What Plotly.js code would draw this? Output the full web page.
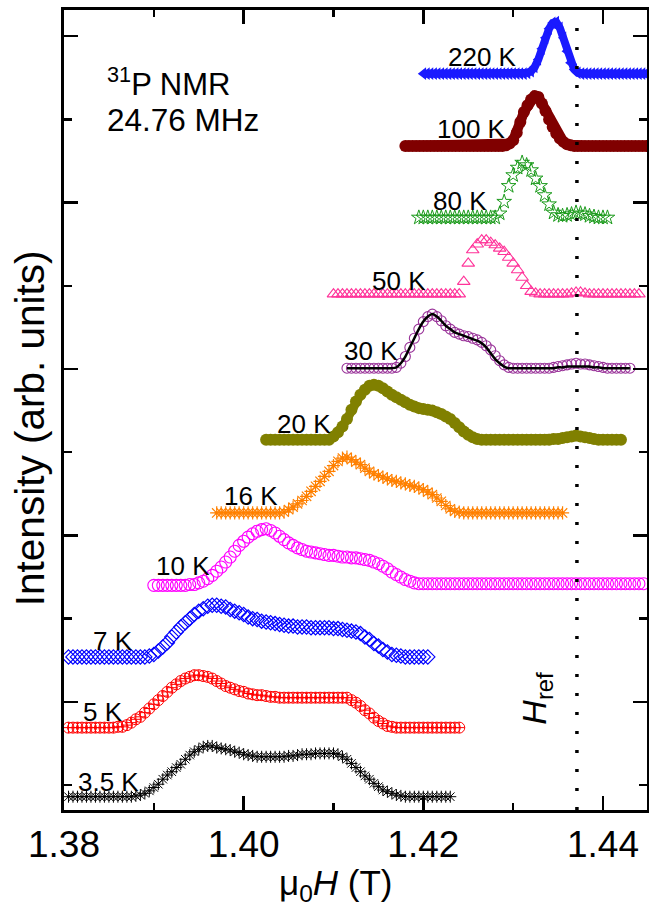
<!DOCTYPE html>
<html>
<head>
<meta charset="utf-8">
<script src="https://cdn.plot.ly/plotly-3.0.1.min.js"></script>
<style>
html,body{margin:0;padding:0;background:#fff;}
#chart{width:649px;height:907px;}
</style>
</head>
<body>
<div id="chart"></div>
<script>
// ---------- data (field in tesla, intensity in arb. units incl. vertical offset) ----------
const hRef = 1.4371;
const tempLabels = ["3.5 K","5 K","7 K","10 K","16 K","20 K","30 K","50 K","80 K","100 K","220 K"];

const x35 = [1.3805,1.3810,1.3815,1.3820,1.3825,1.3830,1.3835,1.3840,1.3845,1.3850,1.3855,1.3860,1.3865,1.3870,1.3875,1.3880,1.3885,1.3890,1.3895,1.3900,1.3905,1.3910,1.3915,1.3920,1.3925,1.3930,1.3935,1.3940,1.3945,1.3950,1.3955,1.3960,1.3965,1.3970,1.3975,1.3980,1.3985,1.3990,1.3995,1.4000,1.4005,1.4010,1.4015,1.4020,1.4025,1.4030,1.4035,1.4040,1.4045,1.4050,1.4055,1.4060,1.4065,1.4070,1.4075,1.4080,1.4085,1.4090,1.4095,1.4100,1.4105,1.4110,1.4115,1.4120,1.4125,1.4130,1.4135,1.4140,1.4145,1.4150,1.4155,1.4160,1.4165,1.4170,1.4175,1.4180,1.4185,1.4190,1.4195,1.4200,1.4205,1.4210,1.4215,1.4220,1.4225,1.4230];
const y35 = [-0.14,-0.14,-0.14,-0.14,-0.14,-0.14,-0.14,-0.14,-0.14,-0.14,-0.14,-0.14,-0.14,-0.14,-0.14,-0.13,-0.12,-0.10,-0.07,-0.03,0.01,0.07,0.12,0.16,0.21,0.25,0.31,0.36,0.40,0.43,0.46,0.47,0.47,0.45,0.44,0.43,0.42,0.40,0.39,0.37,0.36,0.35,0.34,0.34,0.34,0.34,0.34,0.34,0.34,0.35,0.35,0.36,0.37,0.37,0.37,0.38,0.38,0.38,0.38,0.38,0.37,0.34,0.31,0.26,0.21,0.16,0.11,0.07,0.02,-0.02,-0.06,-0.08,-0.10,-0.12,-0.13,-0.14,-0.14,-0.14,-0.14,-0.14,-0.14,-0.14,-0.14,-0.14,-0.14,-0.14];

const x5 = [1.3805,1.3810,1.3815,1.3820,1.3825,1.3830,1.3835,1.3840,1.3845,1.3850,1.3855,1.3860,1.3865,1.3870,1.3875,1.3880,1.3885,1.3890,1.3895,1.3900,1.3905,1.3910,1.3915,1.3920,1.3925,1.3930,1.3935,1.3940,1.3945,1.3950,1.3955,1.3960,1.3965,1.3970,1.3975,1.3980,1.3985,1.3990,1.3995,1.4000,1.4005,1.4010,1.4015,1.4020,1.4025,1.4030,1.4035,1.4040,1.4045,1.4050,1.4055,1.4060,1.4065,1.4070,1.4075,1.4080,1.4085,1.4090,1.4095,1.4100,1.4105,1.4110,1.4115,1.4120,1.4125,1.4130,1.4135,1.4140,1.4145,1.4150,1.4155,1.4160,1.4165,1.4170,1.4175,1.4180,1.4185,1.4190,1.4195,1.4200,1.4205,1.4210,1.4215,1.4220,1.4225,1.4230,1.4235,1.4240];
const y5 = [0.69,0.69,0.69,0.69,0.69,0.69,0.69,0.69,0.69,0.69,0.69,0.70,0.70,0.72,0.75,0.79,0.82,0.87,0.92,0.97,1.02,1.07,1.12,1.17,1.21,1.25,1.28,1.30,1.32,1.32,1.31,1.30,1.28,1.25,1.22,1.19,1.17,1.15,1.13,1.12,1.10,1.09,1.08,1.08,1.07,1.06,1.06,1.05,1.05,1.05,1.05,1.05,1.05,1.05,1.05,1.05,1.05,1.05,1.05,1.05,1.05,1.05,1.05,1.02,0.99,0.95,0.90,0.86,0.81,0.77,0.74,0.71,0.70,0.69,0.69,0.69,0.69,0.69,0.69,0.69,0.69,0.69,0.69,0.69,0.69,0.69,0.69,0.69];

const x7 = [1.3805,1.3810,1.3815,1.3820,1.3825,1.3830,1.3835,1.3840,1.3845,1.3850,1.3855,1.3860,1.3865,1.3870,1.3875,1.3880,1.3885,1.3890,1.3895,1.3900,1.3905,1.3910,1.3915,1.3920,1.3925,1.3930,1.3935,1.3940,1.3945,1.3950,1.3955,1.3960,1.3965,1.3970,1.3975,1.3980,1.3985,1.3990,1.3995,1.4000,1.4005,1.4010,1.4015,1.4020,1.4025,1.4030,1.4035,1.4040,1.4045,1.4050,1.4055,1.4060,1.4065,1.4070,1.4075,1.4080,1.4085,1.4090,1.4095,1.4100,1.4105,1.4110,1.4115,1.4120,1.4125,1.4130,1.4135,1.4140,1.4145,1.4150,1.4155,1.4160,1.4165,1.4170,1.4175,1.4180,1.4185,1.4190,1.4195,1.4200,1.4205];
const y7 = [1.54,1.54,1.54,1.54,1.54,1.54,1.54,1.54,1.54,1.54,1.54,1.54,1.54,1.54,1.54,1.54,1.54,1.54,1.55,1.57,1.61,1.66,1.71,1.78,1.84,1.90,1.95,2.00,2.05,2.09,2.12,2.15,2.16,2.16,2.15,2.14,2.11,2.09,2.07,2.05,2.02,2.00,1.99,1.97,1.96,1.95,1.94,1.93,1.92,1.91,1.91,1.90,1.90,1.90,1.89,1.89,1.89,1.89,1.89,1.88,1.88,1.87,1.86,1.85,1.84,1.82,1.78,1.75,1.70,1.67,1.63,1.60,1.57,1.56,1.55,1.54,1.54,1.54,1.54,1.54,1.54];

const x10 = [1.3900,1.3905,1.3910,1.3915,1.3920,1.3925,1.3930,1.3935,1.3940,1.3945,1.3950,1.3955,1.3960,1.3965,1.3970,1.3975,1.3980,1.3985,1.3990,1.3995,1.4000,1.4005,1.4010,1.4015,1.4020,1.4025,1.4030,1.4035,1.4040,1.4045,1.4050,1.4055,1.4060,1.4065,1.4070,1.4075,1.4080,1.4085,1.4090,1.4095,1.4100,1.4105,1.4110,1.4115,1.4120,1.4125,1.4130,1.4135,1.4140,1.4145,1.4150,1.4155,1.4160,1.4165,1.4170,1.4175,1.4180,1.4185,1.4190,1.4195,1.4200,1.4205,1.4210,1.4215,1.4220,1.4225,1.4230,1.4235,1.4240,1.4245,1.4250,1.4255,1.4260,1.4265,1.4270,1.4275,1.4280,1.4285,1.4290,1.4295,1.4300,1.4305,1.4310,1.4315,1.4320,1.4325,1.4330,1.4335,1.4340,1.4345,1.4350,1.4355,1.4360,1.4365,1.4370,1.4375,1.4380,1.4385,1.4390,1.4395,1.4400,1.4405,1.4410,1.4415,1.4420,1.4425,1.4430,1.4435,1.4440,1.4445];
const y10 = [2.40,2.40,2.40,2.40,2.40,2.40,2.40,2.40,2.41,2.41,2.43,2.45,2.48,2.52,2.57,2.62,2.68,2.74,2.81,2.88,2.93,2.98,3.02,3.05,3.07,3.08,3.06,3.03,2.99,2.95,2.91,2.88,2.85,2.83,2.81,2.80,2.79,2.78,2.77,2.76,2.76,2.75,2.74,2.74,2.73,2.73,2.72,2.71,2.70,2.68,2.66,2.63,2.60,2.56,2.53,2.50,2.47,2.45,2.43,2.42,2.42,2.42,2.42,2.42,2.42,2.42,2.42,2.42,2.42,2.42,2.42,2.42,2.42,2.42,2.42,2.42,2.42,2.42,2.42,2.42,2.42,2.42,2.42,2.42,2.42,2.42,2.42,2.42,2.42,2.42,2.42,2.42,2.42,2.42,2.42,2.42,2.42,2.42,2.42,2.42,2.42,2.42,2.42,2.42,2.42,2.42,2.42,2.42,2.42,2.42];

const x16 = [1.3970,1.3975,1.3980,1.3985,1.3990,1.3995,1.4000,1.4005,1.4010,1.4015,1.4020,1.4025,1.4030,1.4035,1.4040,1.4045,1.4050,1.4055,1.4060,1.4065,1.4070,1.4075,1.4080,1.4085,1.4090,1.4095,1.4100,1.4105,1.4110,1.4115,1.4120,1.4125,1.4130,1.4135,1.4140,1.4145,1.4150,1.4155,1.4160,1.4165,1.4170,1.4175,1.4180,1.4185,1.4190,1.4195,1.4200,1.4205,1.4210,1.4215,1.4220,1.4225,1.4230,1.4235,1.4240,1.4245,1.4250,1.4255,1.4260,1.4265,1.4270,1.4275,1.4280,1.4285,1.4290,1.4295,1.4300,1.4305,1.4310,1.4315,1.4320,1.4325,1.4330,1.4335,1.4340,1.4345,1.4350,1.4355];
const y16 = [3.27,3.27,3.27,3.27,3.27,3.27,3.27,3.27,3.27,3.27,3.27,3.27,3.27,3.27,3.27,3.28,3.31,3.34,3.38,3.42,3.47,3.53,3.59,3.65,3.71,3.77,3.84,3.89,3.93,3.94,3.91,3.88,3.85,3.81,3.77,3.74,3.72,3.70,3.68,3.66,3.65,3.63,3.62,3.60,3.59,3.57,3.55,3.52,3.49,3.45,3.41,3.36,3.32,3.29,3.28,3.27,3.27,3.27,3.27,3.27,3.27,3.27,3.27,3.27,3.27,3.27,3.27,3.27,3.27,3.27,3.27,3.27,3.27,3.27,3.27,3.27,3.27,3.27];

const x20 = [1.4025,1.4030,1.4035,1.4040,1.4045,1.4050,1.4055,1.4060,1.4065,1.4070,1.4075,1.4080,1.4085,1.4090,1.4095,1.4100,1.4105,1.4110,1.4115,1.4120,1.4125,1.4130,1.4135,1.4140,1.4145,1.4150,1.4155,1.4160,1.4165,1.4170,1.4175,1.4180,1.4185,1.4190,1.4195,1.4200,1.4205,1.4210,1.4215,1.4220,1.4225,1.4230,1.4235,1.4240,1.4245,1.4250,1.4255,1.4260,1.4265,1.4270,1.4275,1.4280,1.4285,1.4290,1.4295,1.4300,1.4305,1.4310,1.4315,1.4320,1.4325,1.4330,1.4335,1.4340,1.4345,1.4350,1.4355,1.4360,1.4365,1.4370,1.4375,1.4380,1.4385,1.4390,1.4395,1.4400,1.4405,1.4410,1.4415,1.4420];
const y20 = [4.15,4.15,4.15,4.15,4.15,4.15,4.15,4.15,4.15,4.15,4.15,4.15,4.15,4.15,4.15,4.19,4.24,4.31,4.40,4.51,4.61,4.69,4.75,4.80,4.81,4.80,4.77,4.73,4.69,4.66,4.63,4.60,4.57,4.55,4.53,4.52,4.51,4.50,4.48,4.46,4.43,4.40,4.35,4.30,4.25,4.21,4.18,4.16,4.15,4.15,4.15,4.15,4.15,4.15,4.15,4.15,4.15,4.15,4.15,4.15,4.15,4.15,4.15,4.15,4.16,4.16,4.17,4.18,4.19,4.20,4.19,4.18,4.17,4.16,4.15,4.15,4.15,4.15,4.15,4.15];

const x30 = [1.4115,1.4120,1.4125,1.4130,1.4135,1.4140,1.4145,1.4150,1.4155,1.4160,1.4165,1.4170,1.4175,1.4180,1.4185,1.4190,1.4195,1.4200,1.4205,1.4210,1.4215,1.4220,1.4225,1.4230,1.4235,1.4240,1.4245,1.4250,1.4255,1.4260,1.4265,1.4270,1.4275,1.4280,1.4285,1.4290,1.4295,1.4300,1.4305,1.4310,1.4315,1.4320,1.4325,1.4330,1.4335,1.4340,1.4345,1.4350,1.4355,1.4360,1.4365,1.4370,1.4375,1.4380,1.4385,1.4390,1.4395,1.4400,1.4405,1.4410,1.4415,1.4420,1.4425,1.4430];
const y30 = [5.01,5.01,5.01,5.01,5.01,5.01,5.01,5.01,5.01,5.01,5.01,5.02,5.07,5.15,5.26,5.37,5.48,5.57,5.63,5.66,5.63,5.58,5.52,5.48,5.44,5.42,5.40,5.39,5.37,5.35,5.32,5.28,5.23,5.16,5.10,5.05,5.02,5.01,5.01,5.01,5.01,5.01,5.01,5.01,5.01,5.01,5.02,5.03,5.04,5.05,5.06,5.07,5.06,5.06,5.05,5.04,5.03,5.02,5.01,5.01,5.01,5.01,5.01,5.01];
const fit30 = [5.01,5.01,5.01,5.01,5.01,5.01,5.01,5.01,5.01,5.01,5.01,5.02,5.07,5.15,5.26,5.37,5.48,5.57,5.63,5.66,5.63,5.58,5.52,5.48,5.44,5.42,5.40,5.38,5.36,5.34,5.31,5.26,5.19,5.12,5.07,5.03,5.01,5.01,5.01,5.01,5.01,5.01,5.01,5.01,5.01,5.01,5.01,5.02,5.02,5.03,5.03,5.03,5.03,5.03,5.03,5.02,5.02,5.01,5.01,5.01,5.01,5.01,5.01,5.01];

const x50 = [1.4100,1.4105,1.4110,1.4115,1.4120,1.4125,1.4130,1.4135,1.4140,1.4145,1.4150,1.4155,1.4160,1.4165,1.4170,1.4175,1.4180,1.4185,1.4190,1.4195,1.4200,1.4205,1.4210,1.4215,1.4220,1.4225,1.4230,1.4235,1.4240,1.4245,1.4250,1.4255,1.4260,1.4265,1.4270,1.4275,1.4280,1.4285,1.4290,1.4295,1.4300,1.4305,1.4310,1.4315,1.4320,1.4325,1.4330,1.4335,1.4340,1.4345,1.4350,1.4355,1.4360,1.4365,1.4370,1.4375,1.4380,1.4385,1.4390,1.4395,1.4400,1.4405,1.4410,1.4415,1.4420,1.4425,1.4430,1.4435,1.4440];
const y50 = [5.90,5.90,5.90,5.90,5.90,5.90,5.90,5.90,5.90,5.90,5.90,5.90,5.90,5.90,5.90,5.90,5.90,5.90,5.90,5.90,5.90,5.90,5.90,5.90,5.90,5.90,5.90,5.90,5.90,6.05,6.27,6.43,6.50,6.55,6.55,6.52,6.49,6.45,6.41,6.34,6.27,6.19,6.10,6.00,5.93,5.91,5.90,5.90,5.90,5.90,5.90,5.90,5.90,5.91,5.92,5.92,5.91,5.90,5.90,5.90,5.90,5.90,5.90,5.90,5.90,5.90,5.90,5.90,5.90];

const x80 = [1.4195,1.4200,1.4205,1.4210,1.4215,1.4220,1.4225,1.4230,1.4235,1.4240,1.4245,1.4250,1.4255,1.4260,1.4265,1.4270,1.4275,1.4280,1.4285,1.4290,1.4295,1.4300,1.4305,1.4310,1.4315,1.4320,1.4325,1.4330,1.4335,1.4340,1.4345,1.4350,1.4355,1.4360,1.4365,1.4370,1.4375,1.4380,1.4385,1.4390,1.4395,1.4400,1.4405];
const y80 = [6.82,6.82,6.82,6.82,6.82,6.82,6.82,6.82,6.82,6.82,6.82,6.82,6.82,6.82,6.82,6.82,6.82,6.82,6.87,7.01,7.20,7.33,7.42,7.48,7.45,7.39,7.29,7.20,7.09,6.98,6.88,6.85,6.84,6.85,6.86,6.88,6.87,6.86,6.84,6.83,6.82,6.82,6.82];

const x100 = [1.4180,1.4184,1.4188,1.4192,1.4196,1.4200,1.4204,1.4208,1.4212,1.4216,1.4220,1.4224,1.4228,1.4232,1.4236,1.4240,1.4244,1.4248,1.4252,1.4256,1.4260,1.4264,1.4268,1.4272,1.4276,1.4280,1.4284,1.4288,1.4292,1.4296,1.4300,1.4304,1.4308,1.4312,1.4316,1.4320,1.4324,1.4328,1.4332,1.4336,1.4340,1.4344,1.4348,1.4352,1.4356,1.4360,1.4364,1.4368,1.4372,1.4376,1.4380,1.4384,1.4388,1.4392,1.4396,1.4400,1.4404,1.4408,1.4412,1.4416,1.4420,1.4424,1.4428,1.4432,1.4436,1.4440,1.4444,1.4448];
const y100 = [7.68,7.68,7.68,7.68,7.68,7.68,7.68,7.68,7.68,7.68,7.68,7.68,7.68,7.68,7.68,7.68,7.68,7.68,7.68,7.68,7.68,7.68,7.68,7.68,7.68,7.68,7.68,7.68,7.69,7.71,7.75,7.84,7.97,8.09,8.17,8.24,8.28,8.27,8.19,8.10,8.00,7.91,7.83,7.77,7.73,7.70,7.69,7.68,7.68,7.68,7.68,7.68,7.68,7.68,7.68,7.68,7.68,7.68,7.68,7.68,7.68,7.68,7.68,7.68,7.68,7.68,7.68,7.68];

const x220 = [1.4200,1.4204,1.4208,1.4212,1.4216,1.4220,1.4224,1.4228,1.4232,1.4236,1.4240,1.4244,1.4248,1.4252,1.4256,1.4260,1.4264,1.4268,1.4272,1.4276,1.4280,1.4284,1.4288,1.4292,1.4296,1.4300,1.4304,1.4308,1.4312,1.4316,1.4320,1.4324,1.4328,1.4332,1.4336,1.4340,1.4344,1.4348,1.4352,1.4356,1.4360,1.4364,1.4368,1.4372,1.4376,1.4380,1.4384,1.4388,1.4392,1.4396,1.4400,1.4404,1.4408,1.4412,1.4416,1.4420,1.4424,1.4428,1.4432,1.4436,1.4440,1.4444,1.4448];
const y220 = [8.55,8.55,8.55,8.55,8.55,8.55,8.55,8.55,8.55,8.55,8.55,8.55,8.55,8.55,8.55,8.55,8.55,8.55,8.55,8.55,8.55,8.55,8.55,8.55,8.55,8.55,8.55,8.55,8.55,8.56,8.58,8.63,8.72,8.85,8.98,9.09,9.16,9.17,9.10,8.98,8.82,8.68,8.60,8.56,8.55,8.55,8.55,8.55,8.55,8.55,8.55,8.55,8.55,8.55,8.55,8.55,8.55,8.55,8.55,8.55,8.55,8.55,8.55];

const xTickVals = [1.38, 1.40, 1.42, 1.44];
const xTickText = ["1.38", "1.40", "1.42", "1.44"];

// ---------- traces ----------
const FONT = "Liberation Sans, Arial, sans-serif";
function mk(x, y, color, symbol, size, lw, lineW) {
  const t = {x: x, y: y, type: "scatter", mode: lineW ? "lines+markers" : "markers",
    showlegend: false, hoverinfo: "skip",
    marker: {color: color, symbol: symbol, size: size, line: {color: color, width: lw}}};
  if (lineW) t.line = {color: color, width: lineW};
  return t;
}
const traces = [
  mk(x35, y35, "#000000", "asterisk-open", 10, 1.0),
  mk(x5, y5, "#ff0000", "circle-cross-open", 11, 1.0),
  mk(x7, y7, "#0000ff", "diamond-open", 11, 1.2),
  mk(x10, y10, "#ff00ff", "circle-open", 12, 1.1),
  mk(x16, y16, "#ff8000", "asterisk-open", 11, 1.2),
  mk(x20, y20, "#808000", "circle", 12, 0, 9),
  mk(x30, y30, "#993399", "circle-open", 10, 1.1),
  {x: x30, y: fit30, type: "scatter", mode: "lines", showlegend: false, hoverinfo: "skip",
   line: {color: "#000000", width: 2.5, shape: "spline"}},
  mk(x50, y50, "#ff3399", "triangle-up-open", 11, 1.1),
  mk(x80, y80, "#1a9a1a", "star-open", 11, 1.0),
  mk(x100, y100, "#800000", "circle", 12, 0, 10),
  mk(x220, y220, "#1a1aff", "triangle-left", 11, 0, 8)
];

// ---------- layout ----------
const labelPos = [
  [1.3849, 0.04], [1.3843, 0.88], [1.3854, 1.73], [1.3932, 2.63], [1.4008, 3.47],
  [1.4067, 4.34], [1.4142, 5.22], [1.4173, 6.06], [1.4241, 7.02], [1.4254, 7.89], [1.4266, 8.75]
];
const annotations = tempLabels.map((t, i) => ({
  text: t, x: labelPos[i][0], y: labelPos[i][1], xref: "x", yref: "y",
  showarrow: false, xanchor: "center", yanchor: "middle",
  font: {family: FONT, size: 26, color: "#000"}
}));
annotations.push(
  {text: "<sup>31</sup>P NMR", xref: "paper", yref: "paper", x: 0.070, y: 0.91,
   xanchor: "left", yanchor: "middle", showarrow: false, font: {family: FONT, size: 31, color: "#000"}},
  {text: "24.76 MHz", xref: "paper", yref: "paper", x: 0.070, y: 0.8625,
   xanchor: "left", yanchor: "middle", showarrow: false, font: {family: FONT, size: 31.5, color: "#000"}},
  {text: "<i>H</i><sub>ref</sub>", xref: "x", yref: "y", x: 1.43265, y: 1.05, textangle: -90,
   xanchor: "center", yanchor: "middle", showarrow: false, font: {family: FONT, size: 34, color: "#000"}},
  {text: "Intensity (arb. units)", xref: "paper", yref: "paper", x: -0.058, y: 0.4775, textangle: -90,
   xanchor: "center", yanchor: "middle", showarrow: false, font: {family: FONT, size: 40.5, color: "#000"}},
  {text: "μ<sub>0</sub><i>H</i> (T)", xref: "paper", yref: "paper", x: 0.4666, y: -0.094,
   xanchor: "center", yanchor: "middle", showarrow: false, font: {family: FONT, size: 35, color: "#000"}}
);

const layout = {
  width: 649, height: 907,
  margin: {l: 64, r: 2, t: 10, b: 97},
  paper_bgcolor: "#fff", plot_bgcolor: "#fff",
  font: {family: FONT, color: "#000"},
  xaxis: {
    range: [1.38, 1.4449], tickvals: xTickVals, ticktext: xTickText,
    ticks: "inside", ticklen: 14, tickwidth: 2.5, tickcolor: "#000",
    showline: true, linewidth: 3, linecolor: "#000", mirror: "ticks",
    showgrid: false, zeroline: false,
    tickfont: {family: FONT, size: 37, color: "#000"},
    minor: {dtick: 0.01, tick0: 1.38, ticks: "inside", ticklen: 7, tickwidth: 2.5, tickcolor: "#000", showgrid: false}
  },
  yaxis: {
    range: [-0.30, 9.315], tick0: 1, dtick: 2,
    ticks: "inside", ticklen: 14, tickwidth: 2.5, tickcolor: "#000",
    showline: true, linewidth: 3, linecolor: "#000", mirror: "ticks",
    showgrid: false, zeroline: false, showticklabels: false,
    minor: {dtick: 1, tick0: 0, ticks: "inside", ticklen: 8, tickwidth: 2.5, tickcolor: "#000", showgrid: false}
  },
  shapes: [{type: "line", xref: "x", yref: "paper", x0: hRef, x1: hRef, y0: 0, y1: 0.9925,
            line: {color: "#000", width: 3.5, dash: "3px,16px"}}],
  annotations: annotations
};

Plotly.newPlot("chart", traces, layout, {displayModeBar: false, staticPlot: true});
</script>
</body>
</html>
